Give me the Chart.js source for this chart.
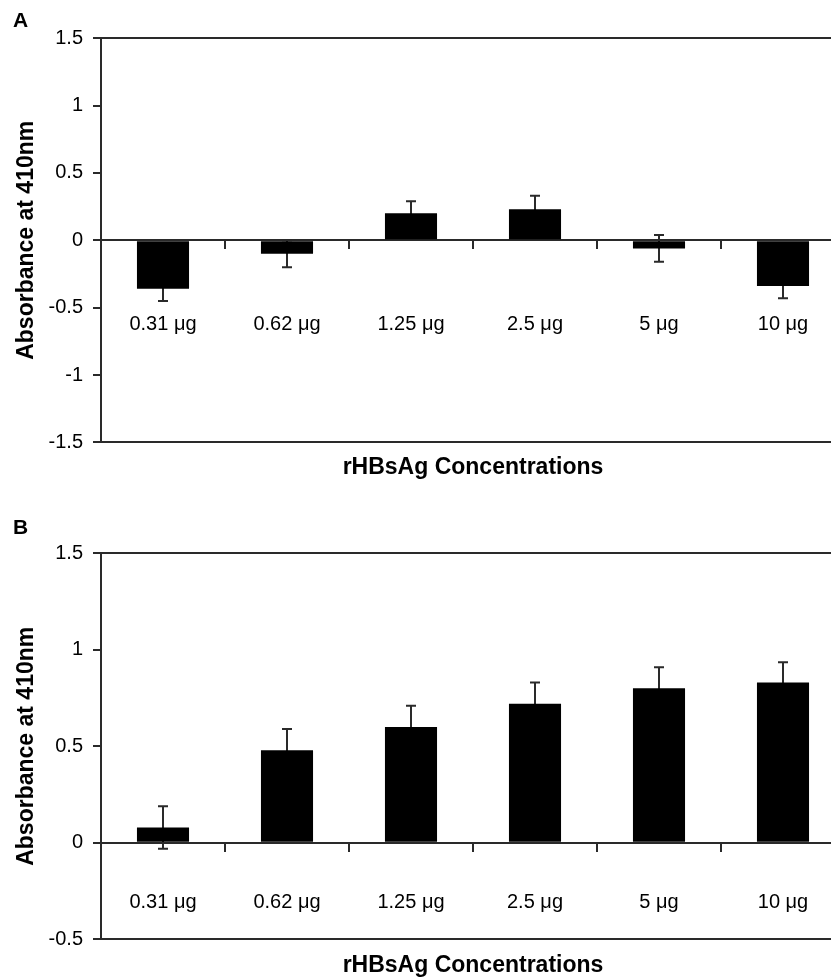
<!DOCTYPE html>
<html>
<head>
<meta charset="utf-8">
<script src="https://cdn.jsdelivr.net/npm/chart.js@4"></script>
<style>
  html, body { margin:0; padding:0; background:#fff; overflow:hidden; }
  canvas { position:absolute; left:0; }
</style>
</head>
<body>
<canvas id="chartA" width="845" height="490" style="top:0"></canvas>
<canvas id="chartB" width="845" height="490" style="top:490px"></canvas>
<script>
// data
const doses = ['0.31 μg', '0.62 μg', '1.25 μg', '2.5 μg', '5 μg', '10 μg'];
const absA = [-0.36, -0.10, 0.20, 0.23, -0.06, -0.34];
const errA = [0.09, 0.10, 0.09, 0.10, 0.10, 0.09];
const absB = [0.08, 0.48, 0.60, 0.72, 0.80, 0.83];
const errB = [0.11, 0.11, 0.11, 0.11, 0.11, 0.105];
const yTicksA = [-1.5, -1, -0.5, 0, 0.5, 1, 1.5];
const yTicksB = [-0.5, 0, 0.5, 1, 1.5];

const FONT = 'Liberation Sans, Arial, Helvetica, sans-serif';
const INK = '#2a2a2a';

// error bars go under the bars so only the outer half shows
const errorBars = {
  id: 'errorBars',
  beforeDatasetsDraw(chart){
    const ds = chart.data.datasets[0];
    const y = chart.scales.y;
    const ctx = chart.ctx;
    ctx.save();
    ctx.strokeStyle = INK;
    ctx.lineWidth = 2;
    chart.getDatasetMeta(0).data.forEach((bar, i)=>{
      const v = ds.data[i], e = ds.errors[i];
      const hi = y.getPixelForValue(v + e), lo = y.getPixelForValue(v - e);
      ctx.beginPath();
      ctx.moveTo(bar.x, hi); ctx.lineTo(bar.x, lo);
      ctx.moveTo(bar.x - 5, hi); ctx.lineTo(bar.x + 5, hi);
      ctx.moveTo(bar.x - 5, lo); ctx.lineTo(bar.x + 5, lo);
      ctx.stroke();
    });
    ctx.restore();
  }
};

function makePanel(id, letter, values, errors, yTicks, pad){
  const yMin = yTicks[0], yMax = yTicks[yTicks.length - 1];
  return new Chart(document.getElementById(id).getContext('2d'), {
    type: 'bar',
    data: { labels: doses, datasets: [{
      data: values, errors,
      backgroundColor: '#000', borderWidth: 0,
      barPercentage: 0.42, categoryPercentage: 1
    }]},
    options: {
      responsive: false, animation: false, devicePixelRatio: 1,
      layout: { padding: { left: 13, right: 0, top: 0, bottom: 0 } },
      plugins: {
        legend: { display: false },
        tooltip: { enabled: false },
        title: {
          display: true, text: letter, align: 'start', color: '#000',
          font: { family: FONT, size: 21, weight: 'bold' },
          padding: { top: pad.letterTop, bottom: pad.letterBottom }
        },
        subtitle: {
          display: true, text: 'rHBsAg Concentrations', position: 'bottom', fullSize: false,
          color: '#000', font: { family: FONT, size: 23, weight: 'bold' },
          padding: { top: pad.titleTop, bottom: pad.titleBottom }
        }
      },
      scales: {
        x: {
          position: { y: 0 },
          // the axis sits on zero; keep its label padding from squeezing the plot
          afterFit: s=>{ s.paddingLeft = 0; s.paddingRight = 0; },
          grid: { offset: true, drawOnChartArea: false, tickLength: 8, color: INK, tickColor: INK, lineWidth: 2 },
          border: { display: true, color: INK, width: 2 },
          ticks: { color: '#000', font: { family: FONT, size: 20 }, padding: pad.labels, maxRotation: 0, autoSkip: false }
        },
        y: {
          min: yMin, max: yMax,
          afterBuildTicks: s=>{ s.ticks = yTicks.map(v=>({ value: v })); },
          afterFit: s=>{ s.width = 88; },
          grid: {
            tickLength: 8, lineWidth: 2, tickColor: INK,
            color: c=> (c.tick && (c.tick.value === yMin || c.tick.value === yMax)) ? INK : 'rgba(0,0,0,0)'
          },
          border: { display: true, color: INK, width: 2 },
          ticks: { color: '#000', font: { family: FONT, size: 20 }, padding: 10, callback: v=> String(v) },
          title: {
            display: true, text: 'Absorbance at 410nm', color: '#000',
            font: { family: FONT, size: 23, weight: 'bold' }, padding: { top: 0, bottom: 0 }
          }
        }
      }
    },
    plugins: [errorBars]
  });
}

makePanel('chartA', 'A', absA, errA, yTicksA,
  { letterTop: 9, letterBottom: 4, titleTop: 11, titleBottom: 9, labels: 64 });
makePanel('chartB', 'B', absB, errB, yTicksB,
  { letterTop: 26, letterBottom: 12, titleTop: 12, titleBottom: 1, labels: 40 });
</script>
</body>
</html>
